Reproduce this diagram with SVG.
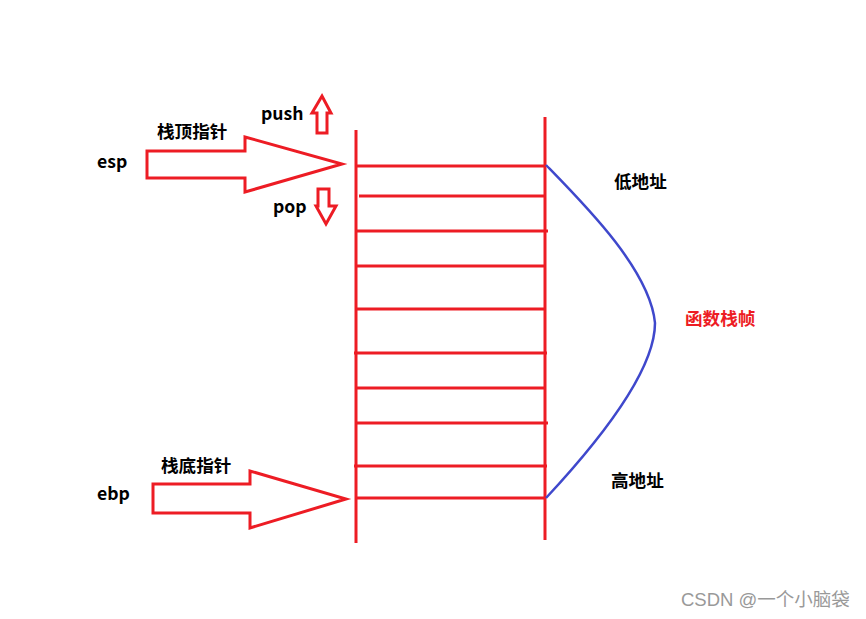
<svg xmlns="http://www.w3.org/2000/svg" width="866" height="619" viewBox="0 0 866 619">
<style>
.r{stroke:#ed1c24;stroke-width:3;fill:none}
.ar{stroke:#ed1c24;stroke-width:3;fill:#fff;stroke-linejoin:miter}
.t{font-family:"Noto Sans CJK SC","Liberation Sans",sans-serif;font-weight:bold;font-size:17.6px;fill:#000}
.red{fill:#ed1c24}
.wm{font-family:"Liberation Sans","Noto Sans CJK SC",sans-serif;font-size:18.5px;fill:#999}
</style>
<rect width="866" height="619" fill="#fff"/>
<g id="stack">
<line class="r" x1="356" y1="130" x2="356" y2="543"/>
<line class="r" x1="545" y1="117" x2="545" y2="540"/>
<line class="r" x1="357" y1="166" x2="545" y2="166"/>
<line class="r" x1="359" y1="196" x2="545" y2="196"/>
<line class="r" x1="357" y1="231" x2="548" y2="231"/>
<line class="r" x1="357" y1="266" x2="545" y2="266"/>
<line class="r" x1="357" y1="309" x2="545" y2="309"/>
<line class="r" x1="354" y1="353" x2="547" y2="353"/>
<line class="r" x1="357" y1="388" x2="545" y2="388"/>
<line class="r" x1="357" y1="423" x2="548" y2="423"/>
<line class="r" x1="354" y1="466" x2="547" y2="466"/>
<line class="r" x1="357" y1="498" x2="545" y2="498"/>
</g>
<g id="connectors">
<polygon id="esp-arrow" class="ar" points="147,151 245,151 245,137 342,164 245,192 245,178 147,178"/>
<polygon id="ebp-arrow" class="ar" points="153,484 250,484 250,471 346,499 250,528 250,513 153,513"/>
<polygon id="push-arrow" class="ar" points="317,133 317,113 312,113 322,96 331,113 327,113 327,133"/>
<polygon id="pop-arrow" class="ar" points="318,189 329,189 329,206 336,206 326,224 316,206 318,206"/>
<path id="frame-curve" d="M546,165 C585,205 650,270 655,323 C655,370 600,440 546,498" fill="none" stroke="#3f48cc" stroke-width="2.5"/>
</g>
<g id="labels">
<text class="t" x="97" y="168">esp</text>
<text class="t" x="157" y="138">栈顶指针</text>
<text class="t" x="261" y="120">push</text>
<text class="t" x="273" y="213">pop</text>
<text class="t" x="97" y="500">ebp</text>
<text class="t" x="161" y="472">栈底指针</text>
<text class="t" x="614" y="188">低地址</text>
<text class="t red" x="685" y="325">函数栈帧</text>
<text class="t" x="611" y="487">高地址</text>
<text class="wm" x="681" y="606">CSDN @一个小脑袋</text>
</g>
</svg>
